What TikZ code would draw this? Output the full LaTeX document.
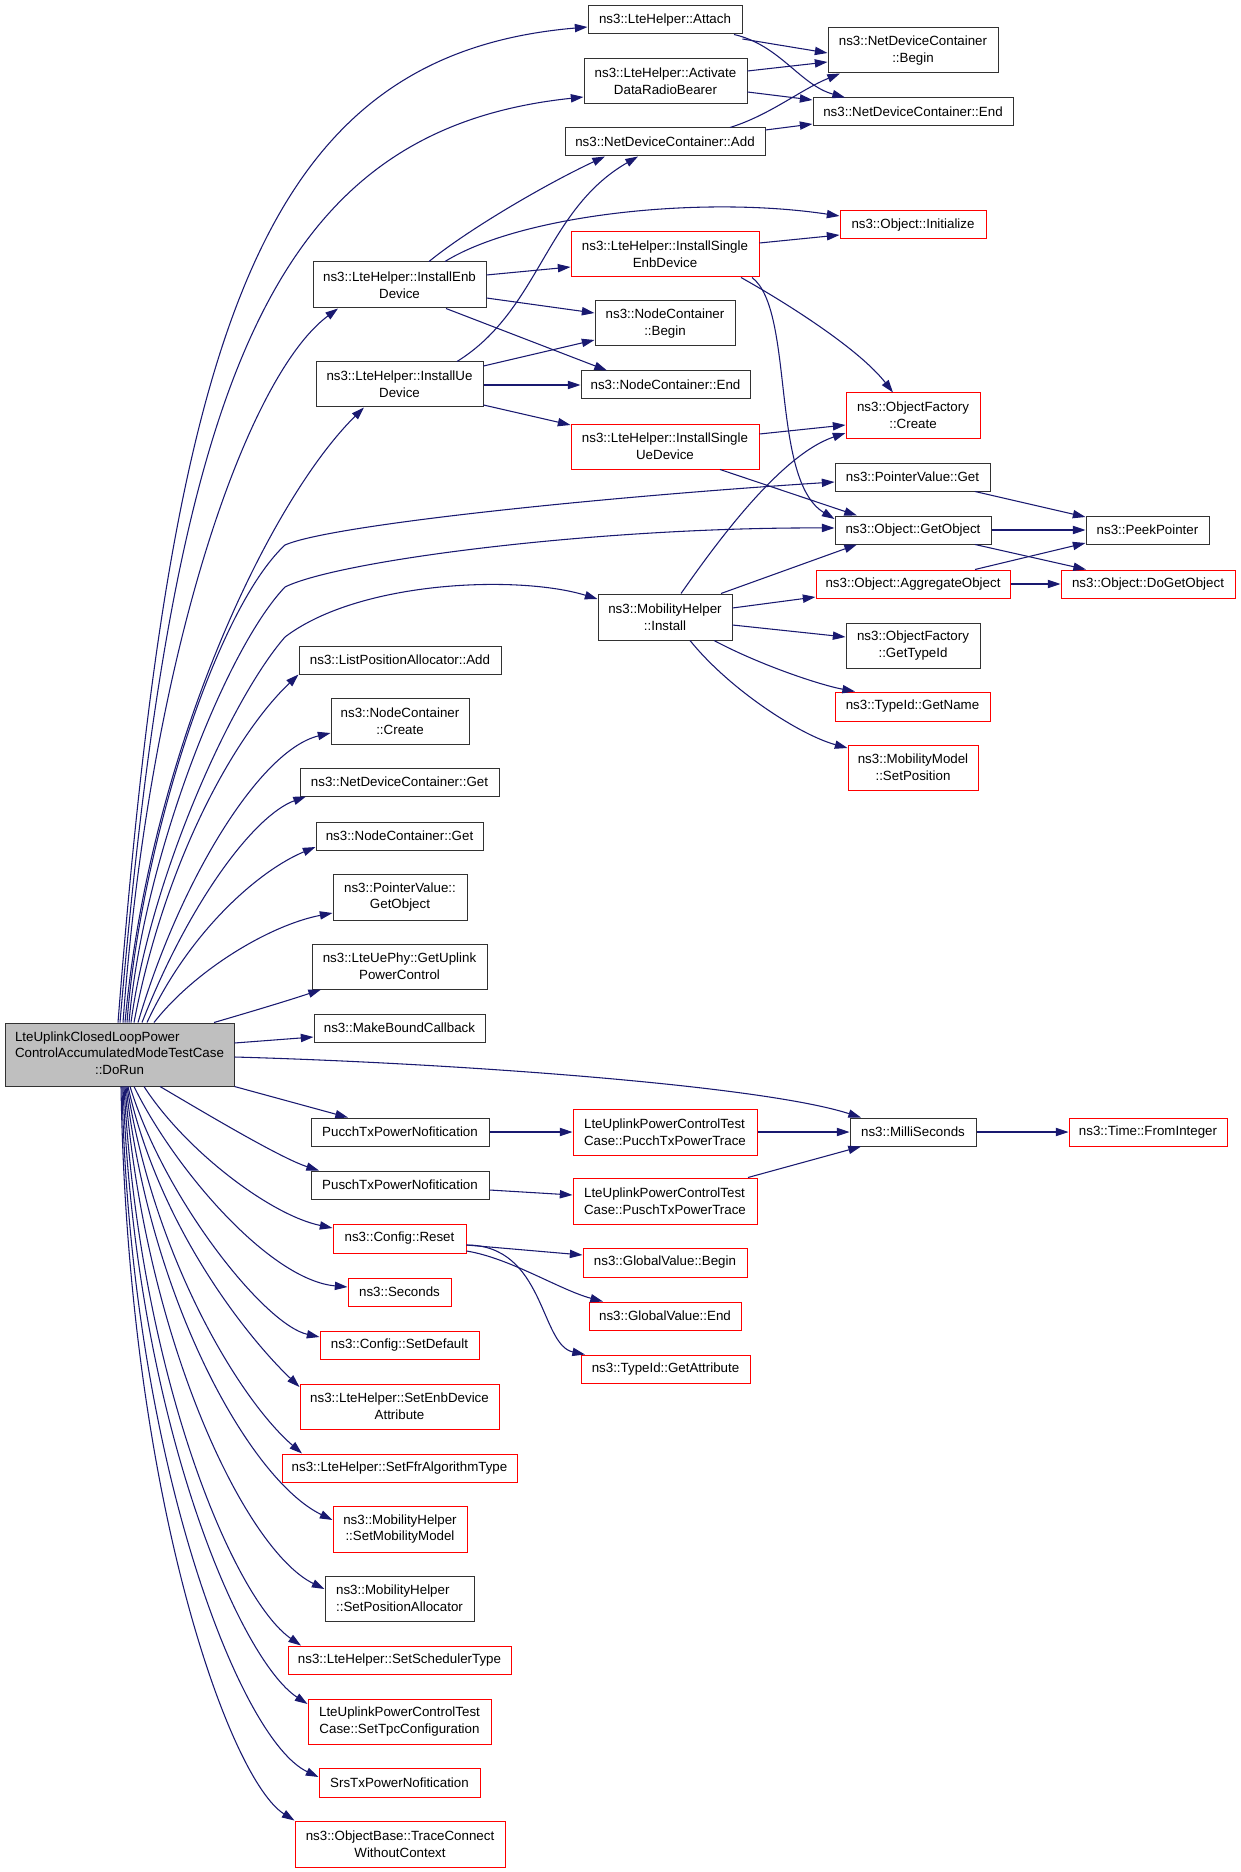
\documentclass[tikz,border=0pt]{standalone}
\usepackage{fontspec}
\setmainfont{Liberation Sans}
\usetikzlibrary{arrows.meta}
\newdimen\pxu \pxu=0.75pt
\newcommand\dfont{\fontsize{10pt}{12.5pt}\selectfont}
\definecolor{navy}{RGB}{25,25,112}
\definecolor{nodered}{RGB}{255,0,0}
\definecolor{rootgray}{RGB}{191,191,191}
\definecolor{bordk}{RGB}{50,50,50}
\begin{document}
\begin{tikzpicture}[x=0.75pt,y=-0.75pt,
 nbox/.style={draw=bordk, line width=0.75pt, inner sep=0pt, align=center, font=\dfont},
 rbox/.style={nbox, draw=nodered},
 sz/.style 2 args={minimum width=#1\pxu, minimum height=#2\pxu},
 edg/.style={draw=navy, line width=0.8pt, -{Triangle[length=9.5pt,width=6.2pt]}}]
\fill[white] (0,0) rectangle (1240,1872);
\useasboundingbox (0,0) rectangle (1240,1872);

% ---- root
\node[nbox, fill=rootgray, sz={229}{63}] (dorun) at (119.5,1054.5)
 {\begin{tabular}{@{}l@{}}LteUplinkClosedLoopPower\\ControlAccumulatedModeTestCase\\\multicolumn{1}{@{}c@{}}{::DoRun}\end{tabular}};

% ---- column B
\node[nbox, sz={173}{46}] (ienb) at (399.5,285) {ns3::LteHelper::InstallEnb\\Device};
\node[nbox, sz={167}{45}] (iue) at (399.5,384.5) {ns3::LteHelper::InstallUe\\Device};
\node[nbox, sz={202}{28}] (lpa) at (400,660) {ns3::ListPositionAllocator::Add};
\node[nbox, sz={138}{46}] (nccreate) at (400,721) {ns3::NodeContainer\\::Create};
\node[nbox, sz={199}{28}] (ndcget) at (399.5,782) {ns3::NetDeviceContainer::Get};
\node[nbox, sz={167}{28}] (ncget) at (399.5,836) {ns3::NodeContainer::Get};
\node[nbox, sz={134}{46}] (pvgetobj) at (400,897) {ns3::PointerValue::\\GetObject};
\node[nbox, sz={175}{45}] (uplink) at (399.5,966.5) {ns3::LteUePhy::GetUplink\\PowerControl};
\node[nbox, sz={171}{28}] (mbc) at (399.5,1028) {ns3::MakeBoundCallback};
\node[nbox, sz={178}{28}] (pucchnof) at (400,1132) {PucchTxPowerNofitication};
\node[nbox, sz={178}{28}] (puschnof) at (400,1185) {PuschTxPowerNofitication};
\node[rbox, sz={133}{29}] (reset) at (399.5,1238.5) {ns3::Config::Reset};
\node[rbox, sz={103}{28}] (seconds) at (399.5,1292) {ns3::Seconds};
\node[rbox, sz={159}{28}] (setdef) at (399.5,1345) {ns3::Config::SetDefault};
\node[rbox, sz={199}{45}] (setenb) at (399.5,1406.5) {ns3::LteHelper::SetEnbDevice\\Attribute};
\node[rbox, sz={235}{28}] (setffr) at (399.5,1468) {ns3::LteHelper::SetFfrAlgorithmType};
\node[rbox, sz={134}{46}] (setmob) at (400,1529) {ns3::MobilityHelper\\::SetMobilityModel};
\node[nbox, align=left, sz={149}{45}] (setposalloc) at (399.5,1598.5) {ns3::MobilityHelper\\::SetPositionAllocator};
\node[rbox, sz={223}{28}] (setsched) at (399.5,1660) {ns3::LteHelper::SetSchedulerType};
\node[rbox, sz={183}{45}] (settpc) at (399.5,1721.5) {LteUplinkPowerControlTest\\Case::SetTpcConfiguration};
\node[rbox, sz={161}{29}] (srs) at (399.5,1782.5) {SrsTxPowerNofitication};
\node[rbox, sz={210}{46}] (trace) at (400,1844) {ns3::ObjectBase::TraceConnect\\WithoutContext};

% ---- column C
\node[nbox, sz={154}{28}] (attach) at (665,20) {ns3::LteHelper::Attach};
\node[nbox, sz={163}{45}] (adrb) at (665.5,81.5) {ns3::LteHelper::Activate\\DataRadioBearer};
\node[nbox, sz={200}{28}] (ndcadd) at (665,142) {ns3::NetDeviceContainer::Add};
\node[rbox, sz={188}{45}] (ise) at (665,254.5) {ns3::LteHelper::InstallSingle\\EnbDevice};
\node[nbox, sz={140}{45}] (ncbegin) at (665,323.5) {ns3::NodeContainer\\::Begin};
\node[nbox, sz={169}{28}] (ncend) at (665.5,385) {ns3::NodeContainer::End};
\node[rbox, sz={188}{45}] (isu) at (665,446.5) {ns3::LteHelper::InstallSingle\\UeDevice};
\node[nbox, sz={134}{46}] (mhinst) at (665,617) {ns3::MobilityHelper\\::Install};
\node[rbox, align=left, sz={184}{46}] (pucchtr) at (665,1132) {LteUplinkPowerControlTest\\Case::PucchTxPowerTrace};
\node[rbox, align=left, sz={184}{46}] (puschtr) at (665,1201) {LteUplinkPowerControlTest\\Case::PuschTxPowerTrace};
\node[rbox, sz={164}{29}] (gvbegin) at (665,1262.5) {ns3::GlobalValue::Begin};
\node[rbox, sz={152}{28}] (gvend) at (665,1316) {ns3::GlobalValue::End};
\node[rbox, sz={169}{28}] (getattr) at (665.5,1369) {ns3::TypeId::GetAttribute};

% ---- column D
\node[nbox, sz={170}{45}] (ndcbegin) at (913,50.5) {ns3::NetDeviceContainer\\::Begin};
\node[nbox, sz={200}{28}] (ndcend) at (913,112) {ns3::NetDeviceContainer::End};
\node[rbox, sz={146}{28}] (objinit) at (913,225) {ns3::Object::Initialize};
\node[rbox, sz={134}{45}] (ofcreate) at (913,415.5) {ns3::ObjectFactory\\::Create};
\node[nbox, sz={155}{28}] (pvget) at (912.5,477) {ns3::PointerValue::Get};
\node[nbox, sz={156}{28}] (getobj) at (913,530) {ns3::Object::GetObject};
\node[rbox, sz={194}{28}] (aggobj) at (913,584) {ns3::Object::AggregateObject};
\node[nbox, sz={134}{45}] (gettypeid) at (913,645.5) {ns3::ObjectFactory\\::GetTypeId};
\node[rbox, sz={155}{29}] (getname) at (912.5,706.5) {ns3::TypeId::GetName};
\node[rbox, sz={130}{45}] (setpos) at (913,767.5) {ns3::MobilityModel\\::SetPosition};
\node[nbox, sz={126}{28}] (ms) at (913,1132) {ns3::MilliSeconds};

% ---- column E
\node[nbox, sz={123}{28}] (peek) at (1147.5,530) {ns3::PeekPointer};
\node[rbox, sz={174}{28}] (dogetobj) at (1148,584) {ns3::Object::DoGetObject};
\node[rbox, sz={158}{28}] (fromint) at (1148,1132) {ns3::Time::FromInteger};

% ---- edges from root (upward)
\draw[edg] (118,0 |- dorun.north) .. controls (172,330) and (260,55) .. (attach.west |- 0,27);
\draw[edg] (120,0 |- dorun.north) .. controls (175,380) and (270,130) .. (adrb.west |- 0,97);
\draw[edg] (123,0 |- dorun.north) .. controls (150,650) and (248,375) .. (338,0 |- ienb.south);
\draw[edg] (125,0 |- dorun.north) .. controls (150,750) and (270,500) .. (364,0 |- iue.south);
\draw[edg] (127,0 |- dorun.north) .. controls (140,850) and (215,610) .. (285,545) .. controls (330,525) and (600,497) .. (pvget.west |- 0,482);
\draw[edg] (129,0 |- dorun.north) .. controls (143,860) and (225,650) .. (285,587) .. controls (340,560) and (600,527) .. (getobj.west |- 0,528);
\draw[edg] (131,0 |- dorun.north) .. controls (150,880) and (230,700) .. (285,637) .. controls (360,580) and (520,575) .. (mhinst.west |- 0,599);
\draw[edg] (134,0 |- dorun.north) .. controls (165,860) and (235,735) .. (lpa.south west);
\draw[edg] (138,0 |- dorun.north) .. controls (180,880) and (260,750) .. (nccreate.west |- 0,733);
\draw[edg] (142,0 |- dorun.north) .. controls (190,900) and (255,815) .. (306,0 |- ndcget.south);
\draw[edg] (147,0 |- dorun.north) .. controls (190,930) and (260,870) .. (ncget.west |- 0,847);
\draw[edg] (154,0 |- dorun.north) .. controls (195,970) and (270,925) .. (pvgetobj.west |- 0,913);
\draw[edg] (214,0 |- dorun.north) .. controls (250,1012) and (290,1000) .. (321,0 |- uplink.south);
% ---- edges from root (sideways)
\draw[edg] (dorun.east |- 0,1043) -- (mbc.west |- 0,1037);
\draw[edg] (dorun.east |- 0,1057) .. controls (450,1063) and (760,1085) .. (861,0 |- ms.north);
\draw[edg] (dorun.south east) -- (348,0 |- pucchnof.north);
% ---- edges from root (downward)
\draw[edg] (160,0 |- dorun.south) .. controls (200,1110) and (280,1158) .. (319,0 |- puschnof.north);
\draw[edg] (144,0 |- dorun.south) .. controls (185,1150) and (270,1215) .. (reset.west |- 0,1228);
\draw[edg] (134,0 |- dorun.south) .. controls (175,1170) and (270,1280) .. (seconds.west |- 0,1287);
\draw[edg] (130,0 |- dorun.south) .. controls (165,1200) and (265,1325) .. (setdef.west |- 0,1337);
\draw[edg] (128,0 |- dorun.south) .. controls (160,1230) and (250,1340) .. (setenb.west |- 0,1387);
\draw[edg] (127,0 |- dorun.south) .. controls (155,1260) and (240,1400) .. (302,0 |- setffr.north);
\draw[edg] (126,0 |- dorun.south) .. controls (150,1300) and (250,1480) .. (setmob.west |- 0,1520);
\draw[edg] (125,0 |- dorun.south) .. controls (145,1340) and (245,1550) .. (setposalloc.west |- 0,1589);
\draw[edg] (124,0 |- dorun.south) .. controls (140,1380) and (235,1600) .. (301,0 |- setsched.north);
\draw[edg] (123,0 |- dorun.south) .. controls (135,1420) and (240,1660) .. (settpc.west |- 0,1704);
\draw[edg] (122,0 |- dorun.south) .. controls (130,1460) and (240,1740) .. (srs.west |- 0,1777);
\draw[edg] (121,0 |- dorun.south) .. controls (128,1500) and (230,1780) .. (trace.north west);

% ---- column B -> C
\draw[edg] (429,0 |- ienb.north) .. controls (470,228) and (550,182) .. (605,0 |- ndcadd.south);
\draw[edg] (445,0 |- ienb.north) .. controls (520,215) and (700,195) .. (objinit.west |- 0,216);
\draw[edg] (ienb.east |- 0,275) -- (ise.west |- 0,267);
\draw[edg] (ienb.east |- 0,298) -- (ncbegin.west |- 0,313);
\draw[edg] (446,0 |- ienb.south) -- (607,0 |- ncend.north);
\draw[edg] (457,0 |- iue.north) .. controls (540,310) and (545,210) .. (638,0 |- ndcadd.south);
\draw[edg] (iue.east |- 0,366) -- (ncbegin.west |- 0,340);
\draw[edg] (iue.east |- 0,385) -- (ncend.west |- 0,385);
\draw[edg] (iue.east |- 0,405) -- (isu.west |- 0,425);

% ---- column C -> D
\draw[edg] (attach.east |- 0,39) -- (ndcbegin.west |- 0,53);
\draw[edg] (734,0 |- attach.south) .. controls (780,45) and (800,85) .. (845,0 |- ndcend.north);
\draw[edg] (adrb.east |- 0,71) -- (ndcbegin.west |- 0,62);
\draw[edg] (adrb.east |- 0,92) -- (ndcend.west |- 0,100);
\draw[edg] (730,0 |- ndcadd.north) .. controls (770,115) and (800,90) .. (840,0 |- ndcbegin.south);
\draw[edg] (ndcadd.east |- 0,130) -- (ndcend.west |- 0,124);
\draw[edg] (ise.east |- 0,243) -- (objinit.west |- 0,235);
\draw[edg] (741,0 |- ise.south) .. controls (790,305) and (860,350) .. (893,0 |- ofcreate.north);
\draw[edg] (752,0 |- ise.south) .. controls (795,310) and (770,480) .. (getobj.west |- 0,519);
\draw[edg] (isu.east |- 0,434) -- (ofcreate.west |- 0,425);
\draw[edg] (720,0 |- isu.south) -- (857,0 |- getobj.north);
\draw[edg] (681,0 |- mhinst.north) .. controls (715,545) and (780,455) .. (ofcreate.west |- 0,433);
\draw[edg] (721,0 |- mhinst.north) -- (857,0 |- getobj.south);
\draw[edg] (mhinst.east |- 0,608) -- (aggobj.west |- 0,597);
\draw[edg] (mhinst.east |- 0,625) -- (gettypeid.west |- 0,637);
\draw[edg] (714,0 |- mhinst.south) .. controls (760,665) and (820,685) .. (855,0 |- getname.north);
\draw[edg] (690,0 |- mhinst.south) .. controls (730,690) and (800,735) .. (setpos.west |- 0,748);

% ---- column D -> E
\draw[edg] (975,0 |- pvget.south) -- (peek.west |- 0,517);
\draw[edg] (getobj.east) -- (peek.west);
\draw[edg] (975,0 |- getobj.south) -- (1086,0 |- dogetobj.north);
\draw[edg] (975,0 |- aggobj.north) -- (peek.west |- 0,543);
\draw[edg] (aggobj.east) -- (dogetobj.west);

% ---- lower chains
\draw[edg] (pucchnof.east) -- (pucchtr.west);
\draw[edg] (puschnof.east |- 0,1190) -- (puschtr.west |- 0,1195);
\draw[edg] (pucchtr.east) -- (ms.west);
\draw[edg] (748,0 |- puschtr.north) -- (861,0 |- ms.south);
\draw[edg] (ms.east) -- (fromint.west);
\draw[edg] (reset.east |- 0,1245) -- (gvbegin.west |- 0,1255);
\draw[edg] (reset.east |- 0,1251) .. controls (510,1258) and (560,1290) .. (603,0 |- gvend.north);
\draw[edg] (reset.east |- 0,1245) .. controls (545,1245) and (540,1345) .. (585,0 |- getattr.north);
\end{tikzpicture}
\end{document}
